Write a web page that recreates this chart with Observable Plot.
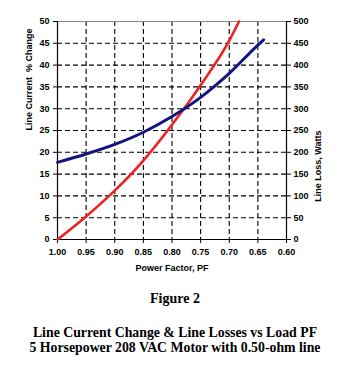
<!DOCTYPE html>
<html>
<head>
<meta charset="utf-8">
<script src="https://cdn.jsdelivr.net/npm/d3@7"></script>
<script src="https://cdn.jsdelivr.net/npm/@observablehq/plot@0.6"></script>
<style>
  html, body { margin: 0; padding: 0; background: #fff; }
  #wrap { position: relative; width: 350px; height: 366px; }
  .cap { position: absolute; left: 0; width: 350px; text-align: center;
         font-family: "Liberation Serif", "Times New Roman", serif; font-weight: bold;
         line-height: 1; color: #000; white-space: nowrap; }
</style>
</head>
<body>
<div id="wrap">
  <div id="chart"></div>
  <div class="cap" style="top:292px;font-size:14px;">Figure 2</div>
  <div class="cap" style="top:326px;font-size:13.8px;">Line Current Change &amp; Line Losses vs Load PF</div>
  <div class="cap" style="top:341px;font-size:13.8px;">5 Horsepower 208 VAC Motor with 0.50-ohm line</div>
</div>
<script>
// Power factor (x), left axis: line current % change (red)
const pfCurrent = [1.00, 0.95, 0.90, 0.85, 0.80, 0.75, 0.70, 0.683];
const currentChange = [0, 5.3, 11.2, 18.1, 26.3, 35.4, 45.6, 50];
// Right axis: line loss in watts (blue)
const pfLoss = [1.00, 0.95, 0.90, 0.85, 0.80, 0.75, 0.70, 0.65, 0.64];
const lineLossW = [177, 196, 218, 246, 282, 326, 381, 446, 458];

const xTicks = [1.00, 0.95, 0.90, 0.85, 0.80, 0.75, 0.70, 0.65, 0.60];
const yTicks = [0, 5, 10, 15, 20, 25, 30, 35, 40, 45, 50];
const wattTicks = [0, 50, 100, 150, 200, 250, 300, 350, 400, 450, 500];

const xLabel = "Power Factor, PF";
const yLeftLabel = "Line Current  % Change";
const yRightLabel = "Line Loss, Watts";

const red = pfCurrent.map((p, i) => ({pf: p, v: currentChange[i]}));
const blue = pfLoss.map((p, i) => ({pf: p, v: lineLossW[i] / 10}));

const font = "Liberation Sans, Arial, sans-serif";

const chart = Plot.plot({
  width: 350,
  height: 280,
  marginLeft: 57,
  marginRight: 64,
  marginTop: 21,
  marginBottom: 41,
  style: {fontFamily: font, fontSize: "9px", fontWeight: "bold", color: "#000", background: "#fff"},
  x: {domain: [1.0, 0.6], label: null},
  y: {domain: [0, 50], label: null},
  marks: [
    Plot.gridX(xTicks.slice(1, -1), {stroke: "#000", strokeOpacity: 1, strokeDasharray: "5,3", strokeWidth: 1.1}),
    Plot.gridY(yTicks.slice(1, -1), {stroke: "#000", strokeOpacity: 1, strokeDasharray: "5,3", strokeWidth: 1.1}),
    Plot.ruleY([50], {stroke: "#8a8a8a", strokeWidth: 1}),
    Plot.axisX({ticks: xTicks, tickFormat: d3.format(".2f"), tickSize: 4, tickPadding: 5, label: null}),
    Plot.axisY({ticks: yTicks, tickSize: 4, tickPadding: 4, label: null, anchor: "left"}),
    Plot.axisY({ticks: yTicks, tickSize: 4, tickPadding: 3, label: null, anchor: "right",
                tickFormat: d => String(wattTicks[yTicks.indexOf(d)])}),
    Plot.ruleX([1.0], {stroke: "#000", strokeWidth: 1.2}),
    Plot.ruleX([0.6], {stroke: "#000", strokeWidth: 1.2}),
    Plot.ruleY([0], {stroke: "#000", strokeWidth: 1.2}),
    Plot.line(red, {x: "pf", y: "v", stroke: "#ee2222", strokeWidth: 2.6, curve: "monotone-x"}),
    Plot.line(blue, {x: "pf", y: "v", stroke: "#141480", strokeWidth: 3, curve: "monotone-x"}),
    Plot.text([xLabel], {frameAnchor: "bottom", dy: 31, fontSize: 9, fontWeight: "bold"}),
    Plot.text([yLeftLabel], {frameAnchor: "left", dx: -28, rotate: -90, fontSize: 9, fontWeight: "bold"}),
    Plot.text([yRightLabel], {frameAnchor: "right", dx: 32, rotate: -90, fontSize: 9, fontWeight: "bold"})
  ]
});
document.getElementById("chart").appendChild(chart);
</script>
</body>
</html>
